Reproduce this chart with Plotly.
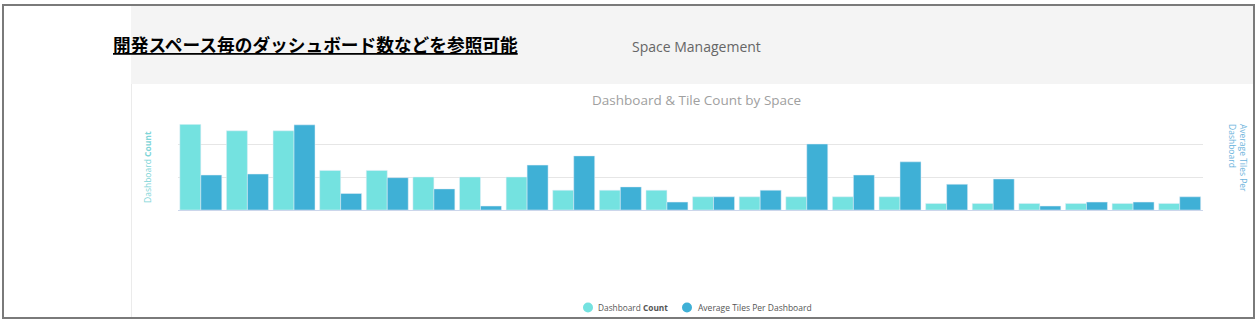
import plotly.graph_objects as go

W, H = 1259, 330

# ---- data ----
spaces = [f"Space {i}" for i in range(1, 23)]
dashboard_count = [13, 12, 12, 6, 6, 5, 5, 5, 3, 3, 3, 2, 2, 2, 2, 2, 1, 1, 1, 1, 1, 1]
avg_tiles = [5.3, 5.45, 12.9, 2.5, 4.9, 3.2, 0.6, 6.8, 8.2, 3.5, 1.2, 2.0, 3.0, 10.0,
             5.3, 7.3, 3.9, 4.7, 0.6, 1.2, 1.2, 2.0]
series_names = ["Dashboard <b>Count</b>", "Average Tiles Per Dashboard"]

LIGHT = "#74e2e0"
DARK = "#3fb0d6"


def px(x):
    return x / W


def py(y):
    return 1 - y / H


fig = go.Figure()
fig.add_trace(go.Bar(x=spaces, y=dashboard_count, name=series_names[0],
                     marker_color=LIGHT, offsetgroup="a", yaxis="y", showlegend=False))
fig.add_trace(go.Bar(x=spaces, y=avg_tiles, name=series_names[1],
                     marker_color=DARK, offsetgroup="b", yaxis="y2", showlegend=False))

shapes = [
    # header band
    dict(type="rect", xref="paper", yref="paper", x0=px(131), x1=px(1253), y0=py(84), y1=py(5),
         fillcolor="#f4f4f4", line=dict(width=0), layer="below"),
    # chart panel left edge
    dict(type="line", xref="paper", yref="paper", x0=px(131.5), x1=px(131.5), y0=py(84), y1=py(318),
         line=dict(color="#ebebeb", width=1), layer="below"),
    # outer frame
    dict(type="rect", xref="paper", yref="paper", x0=px(3), x1=px(1254), y0=py(318), y1=py(5),
         fillcolor="rgba(0,0,0,0)", line=dict(color="#7a7a7a", width=2), layer="above"),
]

annotations = [
    dict(text="<b><u>開発スペース毎のダッシュボード数などを参照可能</u></b>", xref="paper", yref="paper",
         x=px(315), y=py(44), xanchor="center", yanchor="middle", showarrow=False,
         font=dict(family="Noto Sans CJK JP", size=17.7, color="#000000")),
    dict(text="Space Management", xref="paper", yref="paper",
         x=px(696), y=py(46), xanchor="center", yanchor="middle", showarrow=False,
         font=dict(family="Open Sans", size=14, color="#666666")),
    dict(text="Dashboard &amp; Tile Count by Space", xref="paper", yref="paper",
         x=px(696), y=py(100), xanchor="center", yanchor="middle", showarrow=False,
         font=dict(family="Open Sans", size=13.5, color="#a0a0a0")),
    dict(text="Dashboard <b>Count</b>", xref="paper", yref="paper", textangle=-90,
         x=px(147), y=py(167), xanchor="center", yanchor="middle", showarrow=False,
         font=dict(family="Open Sans", size=8.5, color="#7fd5d8")),
    dict(text="Average Tiles Per<br>Dashboard", xref="paper", yref="paper", textangle=90,
         x=px(1238), y=py(122), xanchor="center", yanchor="top", showarrow=False, align="left",
         font=dict(family="Open Sans", size=8.5, color="#6cb4dc")),
]

# legend (round markers + labels, as in the reference)
legend_items = [(588, 596, series_names[0], LIGHT, 8.3), (687, 696, series_names[1], DARK, 8.5)]
for cx, tx, label, col, fs in legend_items:
    shapes.append(dict(type="circle", xref="paper", yref="paper",
                       x0=px(cx - 5), x1=px(cx + 5), y0=py(312.5), y1=py(302.5),
                       fillcolor=col, line=dict(width=0), layer="above"))
    annotations.append(dict(text=label, xref="paper", yref="paper", x=px(tx), y=py(307.5),
                            xanchor="left", yanchor="middle", showarrow=False,
                            font=dict(family="Open Sans", size=fs, color="#555555")))

fig.update_layout(
    width=W, height=H,
    margin=dict(l=0, r=0, t=0, b=0),
    paper_bgcolor="white", plot_bgcolor="rgba(0,0,0,0)",
    barmode="group", bargap=0.1, bargroupgap=0,
    font=dict(family="Open Sans", size=9, color="#555555"),
    xaxis=dict(domain=[px(177.5), px(1203)], showticklabels=False, ticks="",
               showgrid=False, showline=True, linecolor="#ccd6eb", linewidth=1, fixedrange=True),
    yaxis=dict(domain=[py(210), py(124.2)], range=[0, 13], dtick=5, showticklabels=False,
               showgrid=True, gridcolor="#e6e6e6", gridwidth=1, zeroline=False, ticks=""),
    yaxis2=dict(overlaying="y", side="right", range=[0, 13], showticklabels=False,
                showgrid=False, zeroline=False, ticks=""),
    shapes=shapes,
    annotations=annotations,
    showlegend=False,
)

fig.write_html("out.html")
